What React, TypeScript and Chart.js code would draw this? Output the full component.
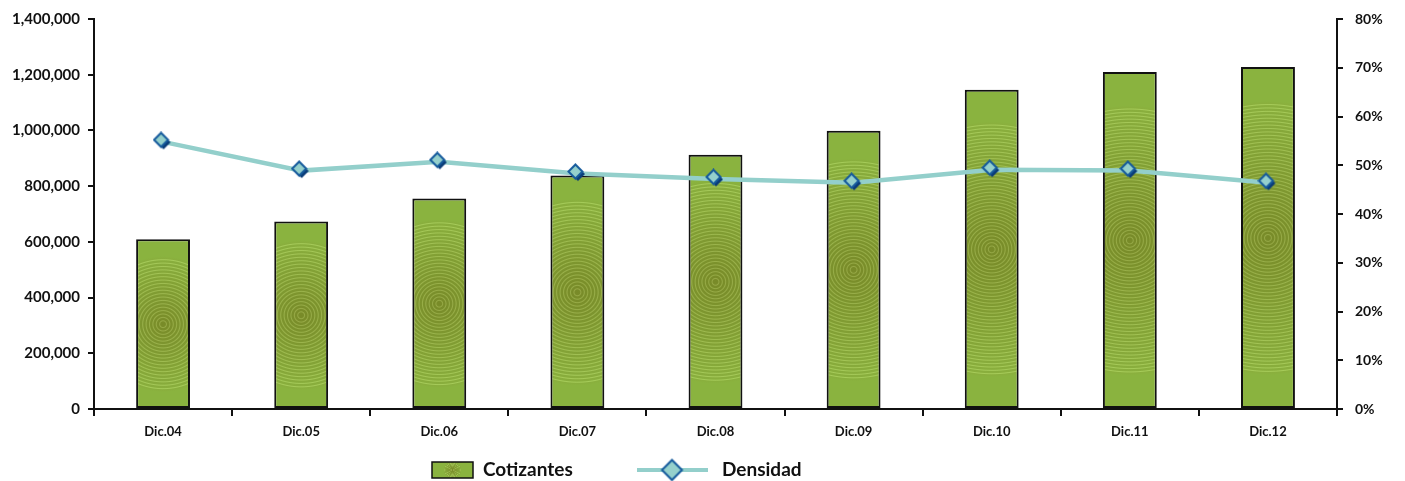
import React, { useEffect, useRef } from "react";
import { Chart, registerables } from "chart.js";

Chart.register(...registerables);

const categories = ["Dic.04", "Dic.05", "Dic.06", "Dic.07", "Dic.08", "Dic.09", "Dic.10", "Dic.11", "Dic.12"];
const cotizantes = [609000, 673000, 756000, 838000, 913000, 999000, 1146000, 1210000, 1228000];
const densidad = [0.548, 0.489, 0.507, 0.483, 0.472, 0.464, 0.491, 0.489, 0.464];
const leftTicks = [0, 200000, 400000, 600000, 800000, 1000000, 1200000, 1400000];
const rightTicks = [0, 0.1, 0.2, 0.3, 0.4, 0.5, 0.6, 0.7, 0.8];

const FONT = "Lato, 'DejaVu Sans', sans-serif";

function mixArr(a: number[], b: number[], t: number) {
  return a.map((v, i) => v + (b[i] - v) * t);
}
function rgb(c: number[]) {
  return `rgb(${Math.round(c[0])},${Math.round(c[1])},${Math.round(c[2])})`;
}

function makeDiamond(size: number, shadow: boolean) {
  const c = document.createElement("canvas");
  c.width = size + 5;
  c.height = size + 5;
  const g = c.getContext("2d")!;
  const r = size / 2 - 1;
  const cx = size / 2 + (shadow ? 0.5 : 2.5);
  const cy = size / 2 + (shadow ? 0.5 : 2.5);
  const path = (x: number, y: number, rr: number) => {
    g.beginPath();
    g.moveTo(x, y - rr);
    g.lineTo(x + rr, y);
    g.lineTo(x, y + rr);
    g.lineTo(x - rr, y);
    g.closePath();
  };
  if (shadow) {
    path(cx + 2.5, cy + 2.5, r);
    g.fillStyle = "#0b3d78";
    g.fill();
  }
  path(cx, cy, r);
  g.fillStyle = "#95d0cc";
  g.fill();
  g.lineWidth = 2;
  g.strokeStyle = "#155a9c";
  g.stroke();
  return c;
}

function fillBarPattern(g: CanvasRenderingContext2D, x: number, cy: number, r: number) {
  const grad = g.createRadialGradient(x, cy, 0, x, cy, r);
  const center = [120, 138, 40];
  const edge = [138, 176, 62];
  const N = Math.max(8, Math.round(r / 3.4));
  grad.addColorStop(0, rgb(center));
  for (let k = 1; k < N; k++) {
    const p = k / N;
    const d = 0.3 / N;
    const base = mixArr(center, edge, p);
    const lt = base.map((v) => Math.min(255, v + 28));
    grad.addColorStop(Math.max(0, p - d), rgb(base));
    grad.addColorStop(p, rgb(lt));
    grad.addColorStop(Math.min(1, p + d), rgb(base));
  }
  grad.addColorStop(1, rgb([138, 179, 63]));
  return grad;
}

export default function App() {
  const ref = useRef<HTMLCanvasElement>(null);

  useEffect(() => {
    document.body.style.margin = "0";
    const canvas = ref.current!;
    const pointImg = makeDiamond(16, true);
    const legendDiamond = makeDiamond(22, false);

    const legendPlugin = {
      id: "customLegend",
      afterDraw(chart: any) {
        const g = chart.ctx as CanvasRenderingContext2D;
        g.save();
        const cy = 470;
        const bx = 432, bw = 41, bh = 16;
        g.fillStyle = "#8ab33f";
        g.fillRect(bx, cy - bh / 2, bw, bh);
        g.fillStyle = fillBarPattern(g, bx + bw / 2, cy, 9);
        g.fillRect(bx, cy - bh / 2, bw, bh);
        g.lineWidth = 1.5;
        g.strokeStyle = "#111";
        g.strokeRect(bx, cy - bh / 2, bw, bh);
        g.fillStyle = "#111";
        g.font = `bold 19px ${FONT}`;
        g.textBaseline = "middle";
        g.textAlign = "left";
        g.fillText("Cotizantes", 483, cy);
        g.strokeStyle = "#93cfcb";
        g.lineWidth = 4;
        g.beginPath();
        g.moveTo(637, cy);
        g.lineTo(708, cy);
        g.stroke();
        g.drawImage(legendDiamond, 672 - legendDiamond.width / 2, cy - legendDiamond.height / 2);
        g.fillStyle = "#111";
        g.fillText("Densidad", 722, cy);
        g.restore();
      },
    };

    const chart = new Chart(canvas, {
      data: {
        labels: categories,
        datasets: [
          {
            type: "line",
            label: "Densidad",
            data: densidad,
            yAxisID: "y1",
            borderColor: "#93cfcb",
            borderWidth: 4.5,
            tension: 0,
            pointStyle: pointImg as any,
            order: 0,
          },
          {
            type: "bar",
            label: "Cotizantes",
            data: cotizantes,
            yAxisID: "y",
            borderColor: "#111",
            borderWidth: 2,
            borderSkipped: false,
            barPercentage: 0.39,
            categoryPercentage: 1,
            order: 1,
            backgroundColor: (c: any) => {
              const ch = c.chart;
              if (c.type !== "data" || !ch.chartArea || !ch.scales.x) return "#8ab33f";
              const x = ch.scales.x.getPixelForValue(c.dataIndex);
              const top = ch.scales.y.getPixelForValue(c.raw);
              const base = ch.scales.y.getPixelForValue(0);
              const cy = (top + base) / 2;
              const r = ((base - top) / 2) * 0.8;
              return fillBarPattern(ch.ctx, x, cy, r);
            },
          },
        ],
      } as any,
      options: {
        responsive: false,
        animation: false,
        layout: { padding: { top: 18, bottom: 42, left: 0, right: 0 } },
        plugins: {
          legend: { display: false },
          tooltip: { enabled: false },
        },
        scales: {
          x: {
            offset: true,
            grid: { offset: true, drawOnChartArea: false, tickLength: 7, color: "#111", lineWidth: 2 },
            border: { color: "#111", width: 2 },
            ticks: { color: "#111", font: { family: FONT, size: 13, weight: "bold" }, padding: 8, maxRotation: 0 },
            afterFit: (s: any) => { s.height = 30; },
          },
          y: {
            position: "left",
            min: 0,
            max: 1400000,
            afterBuildTicks: (s: any) => { s.ticks = leftTicks.map((v) => ({ value: v })); },
            grid: { drawOnChartArea: false, tickLength: 6, color: "#111", lineWidth: 2 },
            border: { color: "#111", width: 2 },
            ticks: {
              color: "#111",
              font: { family: FONT, size: 15, weight: "bold", lineHeight: 1 },
              padding: 8,
              callback: (v: any) => Number(v).toLocaleString("en-US"),
            },
            afterFit: (s: any) => { s.width = 94; },
          },
          y1: {
            position: "right",
            min: 0,
            max: 0.8,
            afterBuildTicks: (s: any) => { s.ticks = rightTicks.map((v) => ({ value: v })); },
            grid: { drawOnChartArea: false, tickLength: 6, color: "#111", lineWidth: 2 },
            border: { color: "#111", width: 2 },
            ticks: {
              color: "#111",
              font: { family: FONT, size: 14, weight: "bold", lineHeight: 1 },
              padding: 12,
              callback: (v: any) => `${Math.round(Number(v) * 100)}%`,
            },
            afterFit: (s: any) => { s.width = 68; },
          },
        },
      } as any,
      plugins: [legendPlugin],
    });
    return () => chart.destroy();
  }, []);

  return (
    <div style={{ position: "absolute", left: 0, top: 0, width: 1405, height: 481, background: "#fff" }}>
      <canvas ref={ref} width={1405} height={481} style={{ width: 1405, height: 481, display: "block" }} />
    </div>
  );
}
